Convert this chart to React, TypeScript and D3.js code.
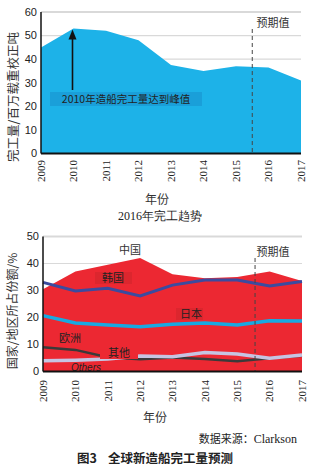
import React from "react";
import * as d3 from "d3";

const years = [2009, 2010, 2011, 2012, 2013, 2014, 2015, 2016, 2017];
const completion = [45, 53, 52, 48, 37.5, 35, 37, 36.5, 31];
const yTicksTop = [0, 10, 20, 30, 40, 50, 60];

const chinaTop = [30.5, 37, 39.5, 42, 36, 34.5, 35, 37, 33.5];
const korea = [33, 29.8, 30.8, 28, 32, 33.9, 33.9, 31.7, 33.3];
const japan = [20.7, 18, 17.2, 16.6, 17.5, 18, 17.2, 18.8, 18.7];
const europe = [9, 8, 5.3, 4.5, 5.2, 4.6, 3.8, 4.9, 5.8];
const others = [4, 4.2, 4.6, 5.7, 5.5, 7, 6.5, 4.9, 6.1];
const yTicksBottom = [0, 10, 20, 30, 40, 50];

const forecastYear = 2015.55;

const CJK = "'Noto Sans CJK SC', sans-serif";
const SERIF = "'Liberation Serif', 'DejaVu Serif', serif";
const SANS = "'Liberation Sans', Arial, sans-serif";

export default function App() {
  // top chart
  const xT = d3.scaleLinear().domain([2009, 2017]).range([41, 301]);
  const yT = d3.scaleLinear().domain([0, 60]).range([153.5, 12]);
  const areaT = d3
    .area<number>()
    .x((_, i) => xT(years[i]))
    .y0(yT(0))
    .y1((d) => yT(d));

  // bottom chart
  const xB = d3.scaleLinear().domain([2009, 2017]).range([43, 302]);
  const yB = d3.scaleLinear().domain([0, 50]).range([371.5, 236.5]);
  const areaB = d3
    .area<number>()
    .x((_, i) => xB(years[i]))
    .y0(yB(0))
    .y1((d) => yB(d));
  const lineB = d3
    .line<number>()
    .x((_, i) => xB(years[i]))
    .y((d) => yB(d));

  return (
    <svg width={332} height={472} style={{ position: "absolute", left: 0, top: 0, background: "#fff" }}>
      {/* ---------- TOP CHART ---------- */}
      {yTicksTop.map((t) => (
        <line key={"gt" + t} x1={xT(2009)} x2={xT(2017)} y1={yT(t)} y2={yT(t)} stroke="#d9d9d9" strokeWidth={t === 60 ? 2 : 1.2} />
      ))}
      <path d={areaT(completion) || ""} fill="#1db2e8" />
      <line x1={xT(forecastYear - 0.05)} x2={xT(forecastYear - 0.05)} y1={29} y2={yT(0)} stroke="#444" strokeDasharray="4,3" strokeWidth={1} />
      <text x={273} y={27} fontSize={11} fontFamily={CJK} fill="#333" textAnchor="middle">预期值</text>
      {/* annotation */}
      <rect x={50} y={92} width={152} height={14} fill="#1a9fd9" />
      <text x={126} y={103} fontSize={10.5} fontFamily={CJK} fill="#222" textAnchor="middle">2010年造船完工量达到峰值</text>
      <line x1={xT(2010) - 1} x2={xT(2010) - 1} y1={90} y2={38} stroke="#111" strokeWidth={1.6} />
      <path d={`M${xT(2010) - 1},${yT(53) + 1} l-4,10 l8,0 z`} fill="#111" />
      {/* axes */}
      <line x1={xT(2009)} x2={xT(2009)} y1={yT(60)} y2={yT(0)} stroke="#111" strokeWidth={1.5} />
      <line x1={xT(2009)} x2={xT(2017)} y1={yT(0)} y2={yT(0)} stroke="#111" strokeWidth={2} />
      {yTicksTop.map((t) => (
        <text key={"yt" + t} x={37} y={yT(t)} dy="0.35em" fontSize={11} fontFamily={SANS} fill="#222" textAnchor="end">{t}</text>
      ))}
      {years.map((yr) => (
        <text key={"xt" + yr} transform={`translate(${xT(yr)},160) rotate(-90)`} dy="0.35em" fontSize={11} fontFamily={SERIF} fill="#222" textAnchor="end">{yr}</text>
      ))}
      <text transform={`translate(14,97) rotate(-90)`} dy="0.35em" fontSize={12.5} fontFamily={CJK} fill="#333" textAnchor="middle">完工量/百万载重校正吨</text>
      <text x={157} y={200} dy="0.35em" fontSize={12} fontFamily={CJK} fill="#333" textAnchor="middle">年份</text>
      <text x={160} y={216} dy="0.35em" fontSize={12} fontFamily={SERIF} fill="#222" textAnchor="middle">2016年完工趋势</text>

      {/* ---------- BOTTOM CHART ---------- */}
      {yTicksBottom.map((t) => (
        <line key={"gb" + t} x1={xB(2009)} x2={xB(2017)} y1={yB(t)} y2={yB(t)} stroke="#d9d9d9" strokeWidth={t === 50 ? 2 : 1.2} />
      ))}
      <path d={areaB(chinaTop) || ""} fill="#ec2832" />
      <path d={lineB(europe) || ""} fill="none" stroke="#3a3a3a" strokeWidth={2.5} />
      <path d={lineB(others) || ""} fill="none" stroke="#c6c4e2" strokeWidth={3.5} />
      <path d={lineB(japan) || ""} fill="none" stroke="#18a9e2" strokeWidth={3.5} />
      <path d={lineB(korea) || ""} fill="none" stroke="#3b4b9f" strokeWidth={3} />
      <line x1={xB(forecastYear)} x2={xB(forecastYear)} y1={258} y2={yB(0)} stroke="#444" strokeDasharray="4,3" strokeWidth={1} />
      {/* labels */}
      <text x={130} y={250} dy="0.35em" fontSize={11} fontFamily={CJK} fill="#333" textAnchor="middle">中国</text>
      <rect x={95} y={272} width={37} height={12} fill="#dc262e" />
      <text x={113} y={278} dy="0.35em" fontSize={11} fontFamily={CJK} fill="#222" textAnchor="middle">韩国</text>
      <rect x={176} y={308} width={27} height={12} fill="#dc262e" />
      <text x={191} y={314} dy="0.35em" fontSize={11} fontFamily={CJK} fill="#222" textAnchor="middle">日本</text>
      <text x={70} y={338} dy="0.35em" fontSize={11} fontFamily={CJK} fill="#222" textAnchor="middle">欧洲</text>
      <rect x={100} y={347} width={38} height={12} fill="#ec2832" />
      <text x={119} y={353} dy="0.35em" fontSize={11} fontFamily={CJK} fill="#222" textAnchor="middle">其他</text>
      <text x={86} y={367} dy="0.35em" fontSize={10} fontFamily={SANS} fontStyle="italic" fill="#222" textAnchor="middle">Others</text>
      <text x={273} y={252} dy="0.35em" fontSize={11} fontFamily={CJK} fill="#333" textAnchor="middle">预期值</text>
      {/* axes */}
      <line x1={xB(2009)} x2={xB(2009)} y1={yB(50)} y2={yB(0)} stroke="#111" strokeWidth={1.5} />
      <line x1={xB(2009)} x2={xB(2017)} y1={yB(0)} y2={yB(0)} stroke="#111" strokeWidth={2} />
      {yTicksBottom.map((t) => (
        <text key={"yb" + t} x={39} y={yB(t)} dy="0.35em" fontSize={11} fontFamily={SANS} fill="#222" textAnchor="end">{t}</text>
      ))}
      {years.map((yr) => (
        <text key={"xb" + yr} transform={`translate(${xB(yr)},380) rotate(-90)`} dy="0.35em" fontSize={11} fontFamily={SERIF} fill="#222" textAnchor="end">{yr}</text>
      ))}
      <text transform={`translate(13,311) rotate(-90)`} dy="0.35em" fontSize={12} fontFamily={CJK} fill="#333" textAnchor="middle">国家/地区所占份额/%</text>
      <text x={155} y={418} dy="0.35em" fontSize={12} fontFamily={CJK} fill="#333" textAnchor="middle">年份</text>
      <text x={297} y={439} dy="0.35em" fontSize={11} fontFamily={CJK} fill="#222" textAnchor="end">
        数据来源：<tspan fontFamily={SERIF} fontSize={12}>Clarkson</tspan>
      </text>
      <text x={77} y={459} dy="0.35em" fontSize={12.5} fontFamily={CJK} fontWeight="bold" fill="#222" textAnchor="start">图3</text>
      <text x={108} y={459} dy="0.35em" fontSize={12.5} fontFamily={CJK} fontWeight="bold" fill="#222" textAnchor="start">全球新造船完工量预测</text>
    </svg>
  );
}
